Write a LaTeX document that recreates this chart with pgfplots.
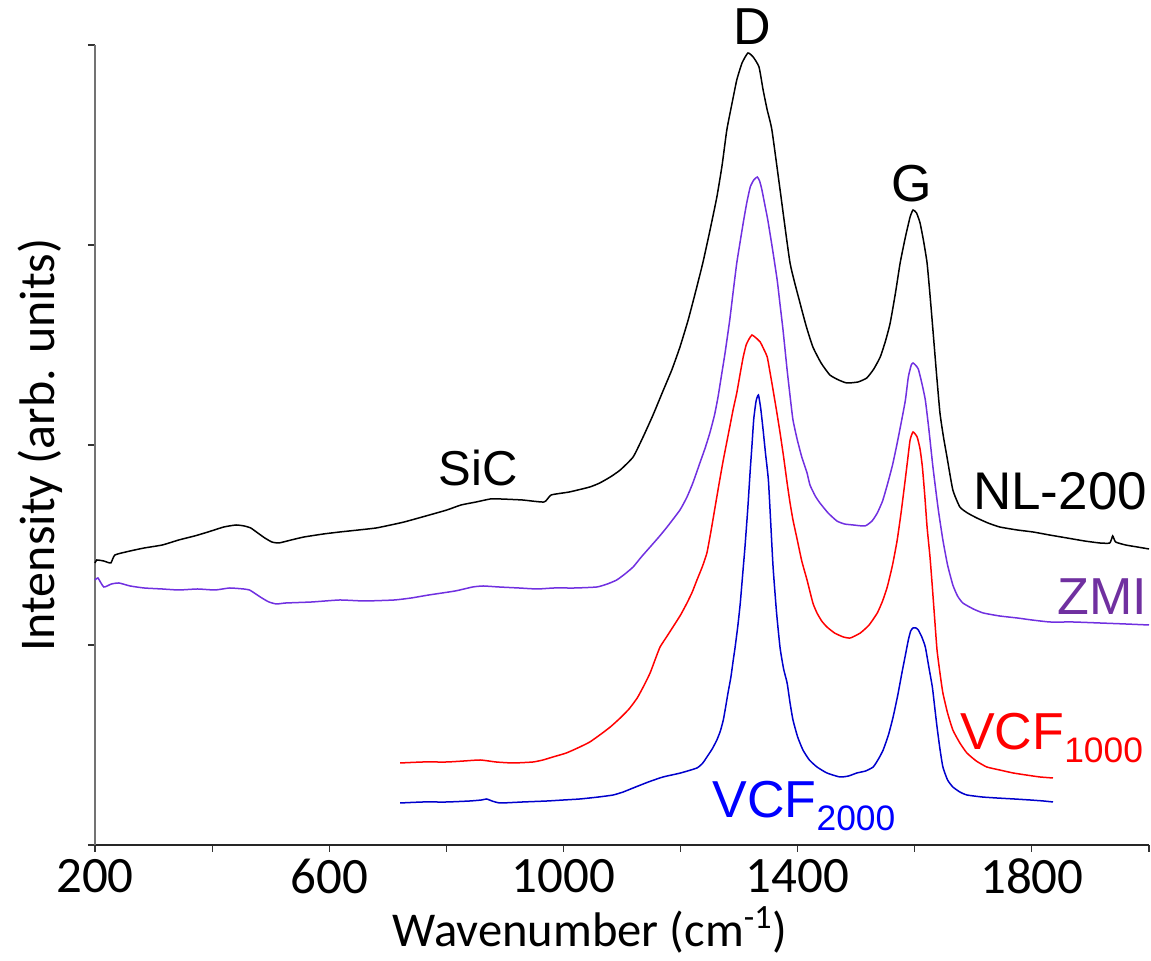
\documentclass[border=0pt]{standalone}
\usepackage{pgfplots}
\pgfplotsset{compat=1.18}
\usepackage{fontspec}
\setmainfont{Carlito}
\newfontfamily\arial{Liberation Sans}
\definecolor{zmiline}{RGB}{112,48,224}
\definecolor{zmitext}{RGB}{112,48,160}
\definecolor{vcfblue}{RGB}{0,0,204}
\begin{document}
\begin{tikzpicture}
\begin{axis}[
  at={(0,0)}, anchor=south west,
  scale only axis, width=527pt, height=400pt,
  xmin=200, xmax=2000, ymin=0, ymax=4,
  axis x line*=bottom, axis y line*=left,
  x axis line style={black!85, line width=0.75pt},
  y axis line style={black!55, line width=0.7pt},
  xtick={200,400,...,2000},
  xticklabels={200,,600,,1000,,1400,,1800,},
  ytick={0,1,2,3,4}, yticklabels={},
  tick align=outside,
  major tick length=3.5pt,
  every tick/.style={black!80, line width=0.6pt},
  clip=false,
  font=\fontsize{25}{29}\selectfont,
  /pgf/number format/assume math mode=true,
  xticklabel style={font=\fontsize{25.5}{29}\selectfont},
  xlabel={Wavenumber (cm\textsuperscript{-1})},
  ylabel={Intensity (arb. units)},
  every axis x label/.style={at={(axis description cs:0.4696,-0.127)}, anchor=base, font=\fontsize{24.3}{29}\selectfont},
  every axis y label/.style={at={(axis description cs:-0.0522,0.5)}, rotate=90, anchor=center, font=\fontsize{25}{29}\selectfont},
  every axis plot/.append style={line width=0.75pt, smooth, tension=0.3},
]
% NL-200
\addplot[black] coordinates {
(200,1.41)(203,1.425)(215,1.42)(227,1.41)(234,1.45)(260,1.47)(284,1.485)(315,1.50)(343,1.525)(370,1.545)(393,1.565)(420,1.59)(441,1.60)
(455,1.595)(466,1.585)(478,1.56)(490,1.535)(502,1.515)(514,1.51)(535,1.525)(557,1.54)(590,1.555)(618,1.565)(650,1.575)(680,1.585)(705,1.60)(728,1.615)(765,1.645)(801,1.675)
(825,1.70)(851,1.715)(875,1.73)(893,1.73)(930,1.725)(967,1.715)(979,1.75)(1010,1.765)(1045,1.79)(1062,1.81)(1080,1.84)(1097,1.875)(1119,1.94)
(1136,2.04)(1153,2.15)(1170,2.27)(1185,2.375)(1199,2.49)(1213,2.625)(1226,2.77)(1238,2.91)(1250,3.07)(1262,3.24)(1271,3.40)
(1279,3.575)(1288,3.71)(1296,3.825)(1305,3.91)(1315,3.96)(1324,3.94)(1334,3.89)(1341,3.775)(1348,3.675)(1356,3.575)(1370,3.275)
(1387,2.91)(1404,2.71)(1415,2.59)(1426,2.49)(1440,2.41)(1455,2.35)(1470,2.325)(1484,2.31)(1503,2.315)(1518,2.335)(1530,2.38)(1541,2.44)
(1550,2.52)(1558,2.61)(1567,2.76)(1575,2.91)(1584,3.04)(1592,3.14)(1597,3.175)(1603,3.16)(1609,3.11)(1615,3.02)(1621,2.91)(1626,2.75)(1631,2.575)(1637,2.36)(1643,2.16)
(1649,2.04)(1655,1.94)(1665,1.775)(1677,1.69)(1690,1.66)(1706,1.635)(1725,1.61)(1745,1.59)(1775,1.575)(1802,1.565)(1830,1.55)(1860,1.535)(1890,1.52)(1916,1.51)
(1933,1.51)(1938,1.545)(1943,1.515)(1960,1.50)(1980,1.49)(2000,1.48)
};
% ZMI
\addplot[zmiline] coordinates {
(200,1.325)(205,1.335)(215,1.29)(228,1.305)(241,1.31)(260,1.295)(284,1.285)(315,1.28)(343,1.275)(375,1.28)(405,1.275)(430,1.285)(454,1.28)
(464,1.275)(472,1.26)(485,1.235)(497,1.215)(510,1.205)(526,1.21)(570,1.215)(618,1.225)(660,1.22)(711,1.225)(740,1.235)(770,1.25)(815,1.27)(845,1.29)(863,1.295)(890,1.29)(924,1.285)
(955,1.28)(984,1.285)(1020,1.285)(1057,1.29)(1075,1.305)(1091,1.325)(1105,1.355)(1119,1.39)(1133,1.44)(1148,1.49)(1163,1.54)(1177,1.59)(1199,1.675)(1211,1.74)(1221,1.81)
(1233,1.91)(1242,1.985)(1250,2.06)(1258,2.15)(1264,2.24)(1270,2.35)(1276,2.46)(1284,2.625)(1290,2.77)(1296,2.91)(1302,3.02)(1307,3.11)(1313,3.21)(1319,3.29)(1325,3.325)
(1331,3.34)(1335,3.32)(1339,3.275)(1344,3.2)(1349,3.125)(1357,2.98)(1365,2.825)(1370,2.70)(1375,2.575)(1382,2.375)(1388,2.22)(1392,2.125)(1399,2.03)
(1407,1.94)(1416,1.86)(1421,1.80)(1430,1.745)(1438,1.71)(1452,1.66)(1467,1.62)(1480,1.605)(1495,1.60)(1515,1.595)(1527,1.62)(1536,1.66)
(1545,1.72)(1553,1.80)(1562,1.90)(1570,2.01)(1578,2.13)(1584,2.225)(1589,2.34)(1594,2.40)(1597,2.41)(1601,2.40)(1606,2.38)(1612,2.31)(1618,2.225)(1624,2.08)(1631,1.89)
(1640,1.68)(1648,1.525)(1656,1.40)(1665,1.30)(1673,1.245)(1682,1.21)(1700,1.18)(1717,1.16)(1745,1.145)(1775,1.135)(1800,1.125)(1831,1.115)(1870,1.115)(1916,1.11)(1960,1.105)(2000,1.10)
};
% VCF1000
\addplot[red] coordinates {
(721,0.41)(760,0.415)(801,0.415)(830,0.42)(858,0.425)(885,0.415)(914,0.41)(948,0.415)(965,0.425)(982,0.44)(1005,0.46)(1028,0.49)(1045,0.515)(1062,0.55)
(1080,0.59)(1097,0.635)(1112,0.68)(1126,0.735)(1138,0.80)(1148,0.86)(1157,0.93)(1165,0.99)(1176,1.04)(1187,1.09)(1200,1.15)(1211,1.21)(1220,1.265)(1228,1.325)(1237,1.39)(1245,1.46)
(1252,1.57)(1259,1.69)(1266,1.81)(1273,1.925)(1284,2.09)(1290,2.18)(1296,2.26)(1302,2.36)(1307,2.44)(1312,2.50)(1317,2.53)(1322,2.55)(1329,2.535)(1336,2.515)
(1342,2.48)(1348,2.44)(1353,2.36)(1358,2.275)(1364,2.17)(1370,2.06)(1376,1.94)(1382,1.81)(1387,1.71)(1392,1.625)(1399,1.53)(1407,1.42)(1416,1.325)
(1426,1.21)(1433,1.16)(1441,1.12)(1450,1.09)(1463,1.06)(1478,1.04)(1490,1.035)(1507,1.06)(1522,1.10)(1536,1.16)(1545,1.22)(1553,1.29)
(1562,1.40)(1570,1.525)(1577,1.67)(1583,1.81)(1588,1.93)(1592,2.025)(1597,2.065)(1604,2.04)(1609,1.98)(1613,1.89)(1617,1.75)(1621,1.59)(1626,1.44)(1630,1.29)
(1634,1.13)(1638,0.975)(1643,0.86)(1648,0.76)(1656,0.66)(1665,0.575)(1677,0.51)(1689,0.46)(1705,0.42)(1723,0.39)(1745,0.375)(1768,0.36)(1790,0.35)(1814,0.34)(1836,0.335)
};
% VCF2000
\addplot[vcfblue] coordinates {
(721,0.21)(760,0.215)(801,0.215)(840,0.22)(860,0.225)(869,0.23)(878,0.22)(892,0.21)(930,0.215)(972,0.22)(1000,0.225)(1028,0.23)(1060,0.24)(1085,0.25)(1102,0.265)(1119,0.285)
(1145,0.315)(1170,0.34)(1200,0.36)(1228,0.385)(1238,0.41)(1245,0.44)(1254,0.48)(1262,0.525)(1268,0.57)(1273,0.625)(1277,0.69)(1281,0.76)(1286,0.84)(1290,0.925)(1293,0.985)
(1298,1.10)(1302,1.21)(1306,1.35)(1310,1.49)(1315,1.69)(1319,1.875)(1322,2.00)(1325,2.13)(1329,2.22)(1333,2.25)(1337,2.18)(1341,2.075)(1345,1.96)(1350,1.825)(1354,1.61)(1358,1.39)
(1364,1.16)(1370,0.985)(1376,0.88)(1382,0.81)(1387,0.71)(1392,0.625)(1400,0.54)(1409,0.475)(1420,0.425)(1433,0.39)(1450,0.36)(1472,0.34)(1487,0.345)(1501,0.36)(1516,0.37)(1529,0.39)
(1538,0.43)(1546,0.475)(1555,0.55)(1563,0.64)(1571,0.75)(1578,0.86)(1584,0.95)(1589,1.025)(1593,1.07)(1597,1.085)(1602,1.085)(1606,1.075)(1612,1.04)(1618,0.99)(1624,0.89)(1630,0.79)
(1634,0.69)(1638,0.59)(1643,0.48)(1648,0.39)(1656,0.325)(1665,0.29)(1677,0.265)(1689,0.25)(1715,0.24)(1740,0.235)(1770,0.23)(1797,0.225)(1820,0.22)(1836,0.215)
};
\node[anchor=base, inner sep=0, font=\arial\fontsize{26}{30}\selectfont] at (axis cs:1322,4.0) {D};
\node[anchor=base, inner sep=0, font=\arial\fontsize{26}{30}\selectfont] at (axis cs:1595,3.215) {G};
\node[anchor=base west, inner sep=0, font=\arial\fontsize{24.5}{30}\selectfont] at (axis cs:786,1.795) {SiC};
\node[anchor=base west, inner sep=0, font=\arial\fontsize{26.5}{30}\selectfont] at (axis cs:1699,1.675) {NL-200};
\node[anchor=base west, inner sep=0, text=zmitext, font=\arial\fontsize{26}{30}\selectfont] at (axis cs:1843,1.15) {ZMI};
\node[anchor=base west, inner sep=0, text=red, font=\arial\fontsize{26}{30}\selectfont] at (axis cs:1677,0.475) {VCF{\fontsize{17.7}{20}\selectfont\raisebox{-6.5pt}{1000}}};
\node[anchor=base west, inner sep=0, text=blue, font=\arial\fontsize{26}{30}\selectfont] at (axis cs:1254,0.135) {VCF{\fontsize{17.7}{20}\selectfont\raisebox{-6.5pt}{2000}}};
\end{axis}
\pgfresetboundingbox
\path (-47.5pt,-58pt) rectangle (528pt,422.5pt);
\end{tikzpicture}
\end{document}
